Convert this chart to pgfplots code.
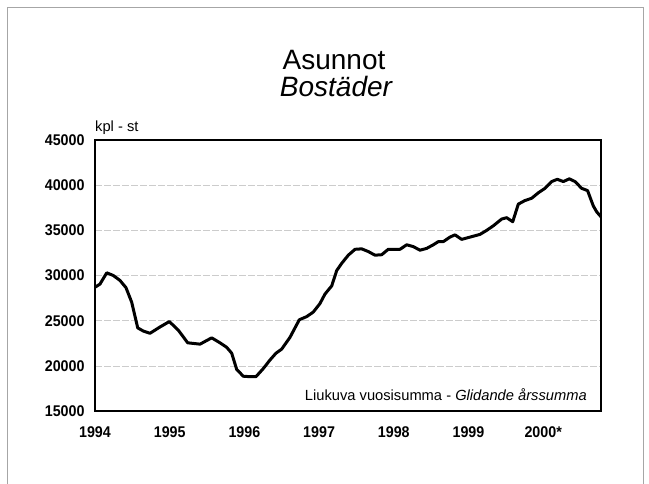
\documentclass[border=0pt]{standalone}
\usepackage{pgfplots}
\pgfplotsset{compat=1.18}
\usepackage{fontspec}
\setmainfont{Liberation Sans}
\newfontfamily\tickfont{Liberation Sans Bold}[FakeStretch=0.92]
\pgfplotstableread{
year value
1994.000 28700
1994.067 29050
1994.157 30300
1994.245 30000
1994.335 29450
1994.415 28650
1994.491 27050
1994.572 24200
1994.647 23850
1994.736 23600
1994.870 24300
1994.995 24900
1995.115 23950
1995.241 22550
1995.406 22400
1995.562 23100
1995.673 22550
1995.763 22050
1995.830 21400
1995.897 19600
1995.985 18850
1996.075 18800
1996.155 18800
1996.253 19700
1996.343 20650
1996.423 21400
1996.499 21850
1996.610 23150
1996.735 25100
1996.834 25450
1996.922 25950
1997.012 26900
1997.079 27950
1997.169 28850
1997.236 30550
1997.303 31350
1997.391 32250
1997.481 32900
1997.570 32950
1997.659 32650
1997.748 32250
1997.838 32300
1997.926 32900
1998.083 32900
1998.173 33400
1998.261 33200
1998.351 32800
1998.440 33000
1998.529 33400
1998.596 33750
1998.663 33750
1998.752 34250
1998.819 34500
1998.909 34000
1999.020 34250
1999.154 34550
1999.244 35000
1999.332 35500
1999.444 36250
1999.511 36400
1999.592 35950
1999.667 37900
1999.756 38300
1999.846 38550
1999.934 39150
2000.024 39650
2000.114 40400
2000.189 40650
2000.269 40400
2000.350 40700
2000.426 40400
2000.515 39650
2000.594 39400
2000.671 37700
2000.716 37050
2000.774 36500
}\housing
\begin{document}
\begin{tikzpicture}
\useasboundingbox (0,0) rectangle (649bp,484bp);
% outer frame
\draw[gray!70, line width=1bp] (7bp,0) -- (7bp,476bp) -- (643bp,476bp) -- (643bp,0);
% titles
\node[anchor=base, inner sep=0pt] at (334bp,414bp) {\fontsize{28bp}{32bp}\selectfont Asunnot};
\node[anchor=base, inner sep=0pt] at (336bp,387.3bp) {\fontsize{28bp}{32bp}\selectfont\itshape Bostäder};
\begin{axis}[
  at={(95bp,73bp)}, anchor=south west,
  width=506bp, height=271bp, scale only axis,
  xmin=1994, xmax=2000.774,
  ymin=15000, ymax=45000,
  scaled x ticks=false, scaled y ticks=false,
  xtick={1994,1995,1996,1997,1998,1999,2000},
  xticklabels={1994,1995,1996,1997,1998,1999,2000*},
  ytick={15000,20000,25000,30000,35000,40000,45000},
  yticklabels={15000,20000,25000,30000,35000,40000,45000},
  major tick length=0pt,
  tick style={draw=none},
  axis line style={line width=1.2bp, black},
  ymajorgrids,
  major grid style={gray!40, line width=0.6bp, dash pattern=on 7bp off 2bp},
  ticklabel style={font=\tickfont\fontsize{15.5bp}{17bp}\selectfont},
  xticklabel style={anchor=north, yshift=-12bp},
  yticklabel style={anchor=east, xshift=-7bp},
  clip=true,
]
\addplot[black, line width=3bp, line join=round, line cap=round] table[x=year, y=value] {\housing};
\end{axis}
\node[anchor=base west, inner sep=0pt] at (95bp,352.3bp) {\fontsize{14.7bp}{17bp}\selectfont kpl - st};
\node[anchor=base east, inner sep=0pt] at (587bp,83.3bp) {\fontsize{14.7bp}{17bp}\selectfont Liukuva vuosisumma - \itshape Glidande årssumma};
\end{tikzpicture}
\end{document}
